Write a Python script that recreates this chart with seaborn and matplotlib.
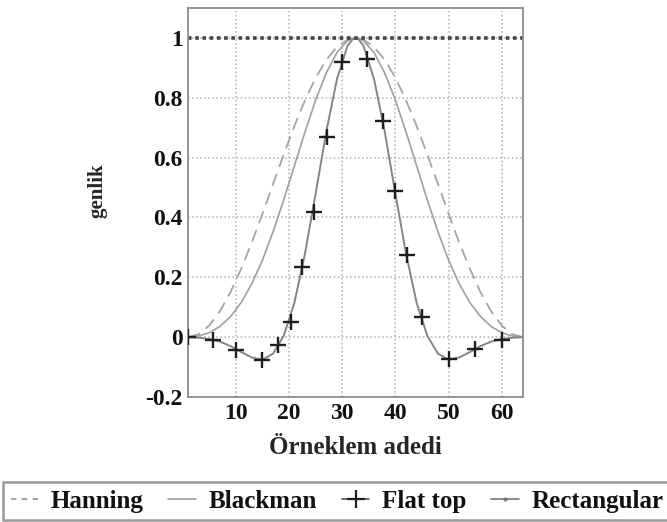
import seaborn as sns
import matplotlib.pyplot as plt
import pandas as pd
from matplotlib.lines import Line2D

# sample positions (window length 64)
sample_x = [1, 3, 5, 7, 9, 11, 13, 15, 17, 19, 21, 23, 25, 27, 29, 31, 32,
            33, 34, 36, 38, 40, 42, 44, 46, 48, 50, 52, 54, 56, 58, 60, 62, 64]

hanning = [0.0, 0.010, 0.039, 0.087, 0.151, 0.229, 0.317, 0.413, 0.513, 0.611,
           0.706, 0.792, 0.867, 0.927, 0.970, 0.994, 0.999,
           0.999, 0.994, 0.970, 0.927, 0.867, 0.792, 0.706, 0.611, 0.513,
           0.413, 0.317, 0.229, 0.151, 0.087, 0.039, 0.010, 0.0]

blackman = [0.0, 0.004, 0.015, 0.036, 0.069, 0.116, 0.179, 0.258, 0.353, 0.459,
            0.573, 0.686, 0.793, 0.883, 0.951, 0.991, 0.999,
            0.999, 0.991, 0.951, 0.883, 0.793, 0.686, 0.573, 0.459, 0.353,
            0.258, 0.179, 0.116, 0.069, 0.036, 0.015, 0.004, 0.0]

flat_top = [0.0, -0.002, -0.006, -0.015, -0.030, -0.050, -0.068, -0.075, -0.055, 0.005,
            0.115, 0.280, 0.480, 0.687, 0.862, 0.974, 0.997,
            0.997, 0.974, 0.862, 0.687, 0.480, 0.280, 0.115, 0.005, -0.055,
            -0.075, -0.068, -0.050, -0.030, -0.015, -0.006, -0.002, 0.0]

rectangular = [1.0] * len(sample_x)

# "+" markers on the flat top curve
marker_x = [1, 5.7, 10, 14.9, 17.9, 20.4, 22.5, 24.6, 27.1, 29.9,
            34.6, 37.7, 40, 42.2, 45, 50, 55, 60]
marker_y = [0.0, -0.01, -0.043, -0.077, -0.027, 0.051, 0.234, 0.418, 0.67, 0.92,
            0.929, 0.721, 0.488, 0.273, 0.068, -0.074, -0.04, -0.008]

x_ticks = [10, 20, 30, 40, 50, 60]
y_ticks = [-0.2, 0, 0.2, 0.4, 0.6, 0.8, 1]
y_tick_labels = ["-0.2", "0", "0.2", "0.4", "0.6", "0.8", "1"]

df = pd.DataFrame({"x": sample_x, "Hanning": hanning, "Blackman": blackman,
                   "Flat top": flat_top, "Rectangular": rectangular})
marks = pd.DataFrame({"x": marker_x, "y": marker_y})

sns.set_style("whitegrid")
plt.rcParams["font.family"] = ["Liberation Serif", "DejaVu Serif"]
plt.rcParams["font.weight"] = "bold"
plt.rcParams["text.color"] = "#111111"

fig = plt.figure(figsize=(6.67, 5.22), dpi=100)
ax = fig.add_axes([0.282, 0.2395, 0.502, 0.745])

sns.lineplot(data=df, x="x", y="Hanning", ax=ax, color="#a5a5a5", lw=1.3,
             linestyle=(0, (7, 4)))
sns.lineplot(data=df, x="x", y="Blackman", ax=ax, color="#a0a0a0", lw=1.2)
sns.lineplot(data=df, x="x", y="Flat top", ax=ax, color="#858585", lw=1.4)
sns.lineplot(data=df, x="x", y="Rectangular", ax=ax, color="#444444", lw=2.6,
             linestyle=(0, (1, 1)))
sns.scatterplot(data=marks, x="x", y="y", ax=ax, marker="+", s=120,
                color="#1e1e1e", linewidth=1.7, zorder=5)

ax.set_xlim(1, 64)
ax.set_ylim(-0.2, 1.1)
ax.set_xticks(x_ticks)
ax.set_yticks(y_ticks)
ax.set_yticklabels(y_tick_labels)
ax.tick_params(length=0, labelsize=17, pad=4, labelcolor="#111111")
for lab in ax.get_xticklabels() + ax.get_yticklabels():
    lab.set_fontweight("bold")

ax.grid(True, linestyle=":", color="#b0b0b0", lw=1.1)
for s in ax.spines.values():
    s.set_color("#8c8c8c")
    s.set_linewidth(1.3)

ax.set_xlabel("Örneklem adedi", fontsize=18, fontweight="bold", va="top")
ax.set_ylabel("genlik", fontsize=15, fontweight="bold")
ax.xaxis.set_label_coords(0.5, -0.1)
ax.yaxis.set_label_coords(-0.242, 0.53)

handles = [
    Line2D([], [], color="#9a9a9a", lw=1.3, linestyle=(0, (3, 3))),
    Line2D([], [], color="#a0a0a0", lw=1.2),
    Line2D([], [], color="#555555", lw=1.2, marker="+", markersize=13,
           markeredgecolor="#1e1e1e", markeredgewidth=1.6),
    Line2D([], [], color="#777777", lw=1.2, marker=".", markersize=4),
]
leg = fig.legend(handles, ["Hanning", "Blackman", "Flat top", "Rectangular"],
                 loc="center", bbox_to_anchor=(0.505, 0.040), ncol=4,
                 frameon=True, fancybox=False, edgecolor="#808080",
                 handlelength=1.1, handletextpad=0.5, columnspacing=1.0,
                 borderpad=0.3, borderaxespad=0,
                 prop={"size": 18, "weight": "bold"})
leg.get_frame().set_linewidth(1.8)

fig.savefig("out.png", dpi=100)
